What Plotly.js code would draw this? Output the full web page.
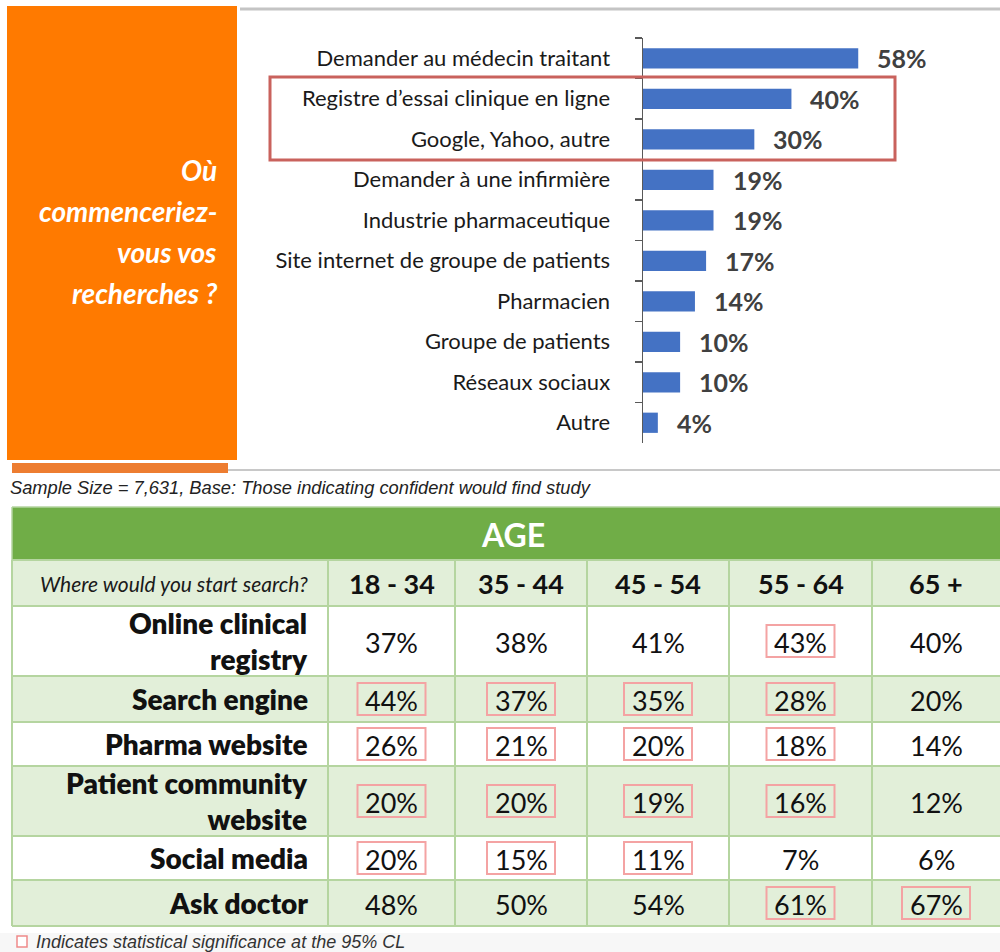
<!DOCTYPE html>
<html><head><meta charset="utf-8">
<script src="https://cdn.plot.ly/plotly-3.0.1.min.js"></script>
<style>html,body{margin:0;padding:0;background:#fff}#chart{width:1000px;height:952px}</style>
</head><body><div id="chart"></div>
<script>
// ---------- DATA ----------
const barLabels = ['Demander au médecin traitant', 'Registre d’essai clinique en ligne', 'Google, Yahoo, autre',
  'Demander à une infirmière', 'Industrie pharmaceutique', 'Site internet de groupe de patients',
  'Pharmacien', 'Groupe de patients', 'Réseaux sociaux', 'Autre'];
const barValues = [58, 40, 30, 19, 19, 17, 14, 10, 10, 4];

const ageGroups = ['18 - 34', '35 - 44', '45 - 54', '55 - 64', '65 +'];
const rowLabels = ['Online clinical<br>registry', 'Search engine', 'Pharma website',
  'Patient community<br>website', 'Social media', 'Ask doctor'];
const onlineRegistry   = [37, 38, 41, 43, 40];
const searchEngine     = [44, 37, 35, 28, 20];
const pharmaWebsite    = [26, 21, 20, 18, 14];
const patientCommunity = [20, 20, 19, 16, 12];
const socialMedia      = [20, 15, 11, 7, 6];
const askDoctor        = [48, 50, 54, 61, 67];
const sigOnline   = [0, 0, 0, 1, 0];
const sigSearch   = [1, 1, 1, 1, 0];
const sigPharma   = [1, 1, 1, 1, 0];
const sigPatient  = [1, 1, 1, 1, 0];
const sigSocial   = [1, 1, 1, 0, 0];
const sigAsk      = [0, 0, 0, 1, 1];

const tableValues = [onlineRegistry, searchEngine, pharmaWebsite, patientCommunity, socialMedia, askDoctor];
const tableSig = [sigOnline, sigSearch, sigPharma, sigPatient, sigSocial, sigAsk];

// ---------- GEOMETRY / STYLE ----------
const W = 1000, H = 952;
const px = x => x / W;
const py = y => 1 - y / H;
const colEdges = [12, 328, 455, 587, 729, 872, 1000];
const ageTop = 507, ageBottom = 560, subBottom = 606;
const rowEdges = [606, 676, 722, 766, 836, 880, 926];
const green = '#70ad47', lightGreen = '#e2efd9', gridGreen = '#b5d5a0';
const calibri = 'Lato, "Open Sans", sans-serif';
const arial = '"Liberation Sans", Arial, sans-serif';

const shapes = [];
const annotations = [];
function rect(x0, y0, x1, y1, fill, line, lw) {
  shapes.push({type: 'rect', xref: 'paper', yref: 'paper',
    x0: px(x0), x1: px(x1), y0: py(y1), y1: py(y0),
    fillcolor: fill || 'rgba(0,0,0,0)', line: {color: line || 'rgba(0,0,0,0)', width: lw || 0}, layer: 'above'});
}
function line(x0, y0, x1, y1, color, width) {
  shapes.push({type: 'line', xref: 'paper', yref: 'paper', x0: px(x0), x1: px(x1), y0: py(y0), y1: py(y1),
    line: {color: color, width: width}, layer: 'above'});
}
function text(t, x, y, opts) {
  annotations.push(Object.assign({text: t, xref: 'paper', yref: 'paper', x: px(x), y: py(y),
    showarrow: false, xanchor: 'center', yanchor: 'middle'}, opts));
}

// top decorations
rect(7, 6, 237, 460, '#ff7a00');
rect(12, 463, 228, 473, '#ed7d31');
line(240, 9, 1000, 9, '#c4c4c4', 3);
line(228, 470, 1000, 470, '#c8c8c8', 2);
rect(270, 77, 895, 160, null, '#c9625d', 3);

const orangeLines = ['Où', 'commenceriez-', 'vous vos', 'recherches ?'];
orangeLines.forEach((t, i) => text(t, 219, 170 + i * 41,
  {xanchor: 'right', font: {family: calibri, size: 28, color: '#ffffff', weight: 700, style: 'italic'}}));

text('Sample Size = 7,631, Base: Those indicating confident would find study', 8, 488,
  {xanchor: 'left', font: {family: arial, size: 18.3, color: '#222222', style: 'italic'}});

// value labels for bars
barValues.forEach((v, i) => annotations.push({
  text: v + '%', x: v, y: barLabels[i], xref: 'x', yref: 'y', showarrow: false,
  xanchor: 'left', yanchor: 'middle', xshift: 17,
  font: {family: calibri, size: 25, color: '#404040', weight: 700}
}));

// ---------- TABLE ----------
rect(colEdges[0], ageTop, W, ageBottom, green);
text('AGE', 513, (ageTop + ageBottom) / 2 + 1,
  {font: {family: calibri, size: 32, color: '#ffffff', weight: 700}});
rect(colEdges[0], ageBottom, W, subBottom, lightGreen);
text('Where would you start search?', colEdges[1] - 18, (ageBottom + subBottom) / 2,
  {xanchor: 'right', font: {family: calibri, size: 21, color: '#1a1a1a', style: 'italic'}});
ageGroups.forEach((g, j) => text(g, (colEdges[j + 1] + colEdges[j + 2]) / 2, (ageBottom + subBottom) / 2,
  {font: {family: calibri, size: 27, color: '#111111', weight: 700}}));

rowLabels.forEach((lab, i) => {
  const y0 = rowEdges[i], y1 = rowEdges[i + 1], yc = (y0 + y1) / 2;
  rect(colEdges[0], y0, W, y1, i % 2 === 1 ? lightGreen : '#ffffff');
  text(lab, colEdges[1] - 18, yc, {xanchor: 'right', align: 'right',
    font: {family: calibri, size: 28, color: '#111111', weight: 800}});
  tableValues[i].forEach((v, j) => {
    const xc = (colEdges[j + 1] + colEdges[j + 2]) / 2;
    text(v + '%', xc, yc + 1, {font: {family: calibri, size: 27, color: '#111111'}});
  });
});
// grid lines
line(colEdges[0], ageTop, W, ageTop, gridGreen, 1.5);
[ageBottom, subBottom].concat(rowEdges.slice(1)).forEach(y => line(colEdges[0], y, W, y, gridGreen, 2));
colEdges.slice(0, 6).forEach(x => line(x, ageBottom, x, rowEdges[6], gridGreen, 2));
line(colEdges[0], ageTop, colEdges[0], ageBottom, gridGreen, 1.5);
// significance boxes
tableSig.forEach((row, i) => row.forEach((s, j) => {
  if (!s) return;
  const xc = (colEdges[j + 1] + colEdges[j + 2]) / 2, yc = (rowEdges[i] + rowEdges[i + 1]) / 2;
  rect(xc - 34, yc - 16, xc + 34, yc + 16, null, '#f4a3a3', 2);
}));

// footnote
rect(0, 933, W, H, '#f7f7f7');
rect(17, 936, 27, 947, '#ffffff', '#f08a8a', 1.5);
text('Indicates statistical significance at the 95% CL', 34, 942,
  {xanchor: 'left', font: {family: arial, size: 18, color: '#333333', style: 'italic'}});

// ---------- PLOT ----------
const trace = {
  type: 'bar', orientation: 'h', x: barValues, y: barLabels,
  marker: {color: '#4472c4'}, hoverinfo: 'skip'
};
const layout = {
  width: W, height: H, margin: {l: 0, r: 0, t: 0, b: 0},
  paper_bgcolor: '#ffffff', plot_bgcolor: 'rgba(0,0,0,0)',
  showlegend: false, bargap: 0.5,
  xaxis: {domain: [px(643), 1], range: [0, 96.2], visible: false, fixedrange: true},
  yaxis: {domain: [py(443), py(38)], type: 'category', autorange: 'reversed',
    showline: true, linecolor: '#595959', linewidth: 1.5,
    ticks: 'outside', tickson: 'boundaries', ticklen: 7, tickcolor: '#595959', tickwidth: 1.5,
    ticklabelstandoff: 27, showgrid: false, zeroline: false, fixedrange: true,
    tickfont: {family: calibri, size: 22, color: '#1a1a1a'}},
  shapes: shapes, annotations: annotations
};
Plotly.newPlot('chart', [trace], layout, {displayModeBar: false, staticPlot: true});
</script>
</body></html>
